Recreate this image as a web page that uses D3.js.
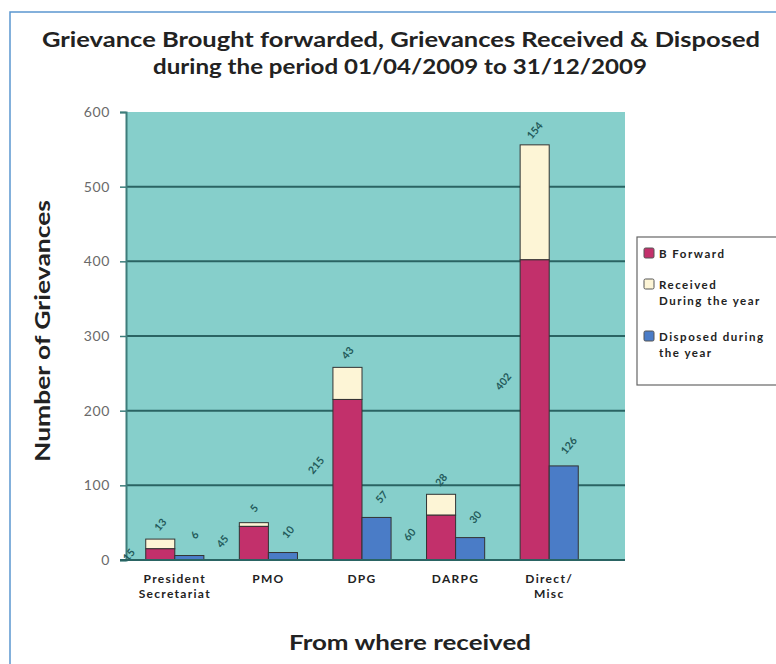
<!DOCTYPE html>
<html>
<head>
<meta charset="utf-8">
<script src="https://cdn.jsdelivr.net/npm/d3@7"></script>
<style>
  body { margin: 0; background: #fff; }
  text { font-family: Lato, "Open Sans", sans-serif; }
</style>
</head>
<body>
<svg id="chart" width="776" height="664"></svg>
<script>
// chart data
const categories = ["President Secretariat", "PMO", "DPG", "DARPG", "Direct/ Misc"];
const categoryLines = [["President", "Secretariat"], ["PMO"], ["DPG"], ["DARPG"], ["Direct/", "Misc"]];
const bForward = [15, 45, 215, 60, 402];
const received = [13, 5, 43, 28, 154];
const disposed = [6, 10, 57, 30, 126];
const yTicks = [0, 100, 200, 300, 400, 500, 600];

const COLORS = { bf: "#c2306b", rec: "#fdf5d6", disp: "#4a7cc7" };

const svg = d3.select("#chart");

// outer frame
svg.append("path")
    .attr("d", "M10,664 V12 H776")
    .attr("fill", "none")
    .attr("stroke", "#5b97cf")
    .attr("stroke-width", 1.5);

// title (the source picture is stretched sideways, so stretch the text too)
function wideText(sel, len) {
    return sel.attr("textLength", len).attr("lengthAdjust", "spacingAndGlyphs");
}
wideText(svg.append("text")
    .attr("x", 401).attr("y", 47)
    .attr("text-anchor", "middle")
    .attr("font-size", 21).attr("font-weight", "bold").attr("fill", "#222")
    .text("Grievance Brought forwarded, Grievances Received & Disposed"), 718);
wideText(svg.append("text")
    .attr("x", 400).attr("y", 74)
    .attr("text-anchor", "middle")
    .attr("font-size", 21).attr("font-weight", "bold").attr("fill", "#222")
    .text("during the period 01/04/2009 to 31/12/2009"), 494);

const plot = { left: 126, right: 625, top: 112, bottom: 560 };

const x = d3.scaleBand()
    .domain(categories)
    .range([128, 596])
    .padding(0);

const sub = d3.scaleBand()
    .domain(["stack", "disp"])
    .range([0, x.bandwidth()])
    .paddingInner(0)
    .paddingOuter(0.61);

const y = d3.scaleLinear()
    .domain([0, 600])
    .range([plot.bottom, plot.top]);

// plot background
svg.append("rect")
    .attr("x", plot.left).attr("y", plot.top)
    .attr("width", plot.right - plot.left).attr("height", plot.bottom - plot.top)
    .attr("fill", "#86cfcb");

// gridlines
svg.append("g")
    .selectAll("line")
    .data(yTicks.filter(d => d > 0 && d < 600))
    .join("line")
    .attr("x1", plot.left).attr("x2", plot.right)
    .attr("y1", d => y(d)).attr("y2", d => y(d))
    .attr("stroke", "#2a6463").attr("stroke-width", 2);

// y axis
const yAxis = svg.append("g")
    .attr("transform", `translate(${plot.left},0)`)
    .call(d3.axisLeft(y).tickValues(yTicks).tickSize(6).tickPadding(10));
yAxis.select(".domain").attr("stroke", "#3d7d7b").attr("stroke-width", 2);
yAxis.selectAll(".tick line").attr("stroke", "#3d7d7b").attr("stroke-width", 1.5);
yAxis.selectAll(".tick text")
    .attr("font-family", "Liberation Sans, Arial, sans-serif")
    .attr("font-size", 14).attr("fill", "#6a6a6a")
    .attr("letter-spacing", 0.6);

// bars
const rows = categories.map((c, i) => ({
    cat: c, bf: bForward[i], rec: received[i], disp: disposed[i]
}));

const groups = svg.append("g")
    .selectAll("g")
    .data(rows)
    .join("g")
    .attr("transform", d => `translate(${x(d.cat)},0)`);

groups.append("rect")
    .attr("x", sub("stack")).attr("width", sub.bandwidth())
    .attr("y", d => y(d.bf + d.rec))
    .attr("height", d => y(d.bf) - y(d.bf + d.rec))
    .attr("fill", COLORS.rec).attr("stroke", "#333").attr("stroke-width", 1);

groups.append("rect")
    .attr("x", sub("stack")).attr("width", sub.bandwidth())
    .attr("y", d => y(d.bf))
    .attr("height", d => y(0) - y(d.bf))
    .attr("fill", COLORS.bf).attr("stroke", "#333").attr("stroke-width", 1);

groups.append("rect")
    .attr("x", sub("disp")).attr("width", sub.bandwidth())
    .attr("y", d => y(d.disp))
    .attr("height", d => y(0) - y(d.disp))
    .attr("fill", COLORS.disp).attr("stroke", "#333").attr("stroke-width", 1);

// bottom axis line
svg.append("line")
    .attr("x1", plot.left - 6).attr("x2", plot.right)
    .attr("y1", plot.bottom).attr("y2", plot.bottom)
    .attr("stroke", "#2a6463").attr("stroke-width", 2);

// data labels (rotated)
function rotLabel(g, lx, ly, txt) {
    g.append("text")
        .attr("transform", `translate(${lx},${ly}) rotate(-50)`)
        .attr("text-anchor", "middle")
        .attr("font-size", 10.5).attr("font-weight", "bold")
        .attr("fill", "#235a5a")
        .text(txt);
}
groups.each(function (d) {
    const g = d3.select(this);
    const sx = sub("stack"), dx = sub("disp"), bw = sub.bandwidth();
    rotLabel(g, sx - 14, y(d.bf * 0.6) + 4, d.bf);
    rotLabel(g, sx + bw / 2 + 3, y(d.bf + d.rec) - 12, d.rec);
    rotLabel(g, dx + bw / 2 + 8, y(d.disp) - 18, d.disp);
});

// category labels
groups.append("text")
    .attr("y", 583)
    .attr("text-anchor", "middle")
    .attr("font-size", 12).attr("font-weight", "bold").attr("fill", "#222")
    .attr("letter-spacing", 1.3)
    .selectAll("tspan")
    .data((d, i) => categoryLines[i])
    .join("tspan")
    .attr("x", x.bandwidth() / 2)
    .attr("dy", (d, i) => i === 0 ? 0 : 15)
    .text(d => d);

// axis titles
wideText(svg.append("text")
    .attr("x", 410).attr("y", 650)
    .attr("text-anchor", "middle")
    .attr("font-size", 20).attr("font-weight", "bold").attr("fill", "#222")
    .text("From where received"), 242);

wideText(svg.append("text")
    .attr("transform", "translate(50,331) rotate(-90)")
    .attr("text-anchor", "middle")
    .attr("font-size", 20).attr("font-weight", "bold").attr("fill", "#222")
    .text("Number of Grievances"), 262);

// legend
const legend = svg.append("g").attr("transform", "translate(637,237)");
legend.append("rect")
    .attr("width", 140).attr("height", 148)
    .attr("fill", "#fff").attr("stroke", "#666").attr("stroke-width", 1.2);

const legendItems = [
    { color: COLORS.bf, lines: ["B Forward"], y: 21 },
    { color: COLORS.rec, lines: ["Received", "During the year"], y: 52 },
    { color: COLORS.disp, lines: ["Disposed during", "the year"], y: 104 }
];
const li = legend.selectAll("g.item")
    .data(legendItems)
    .join("g")
    .attr("class", "item")
    .attr("transform", d => `translate(0,${d.y})`);
li.append("rect")
    .attr("x", 7).attr("y", -10).attr("width", 10).attr("height", 10)
    .attr("rx", 1.5)
    .attr("fill", d => d.color).attr("stroke", "#555").attr("stroke-width", 1);
li.append("text")
    .attr("font-size", 11.5).attr("font-weight", "bold").attr("fill", "#222")
    .attr("letter-spacing", 1.5)
    .selectAll("tspan")
    .data(d => d.lines)
    .join("tspan")
    .attr("x", 22)
    .attr("dy", (d, i) => i === 0 ? 0 : 16)
    .text(d => d);
</script>
</body>
</html>
